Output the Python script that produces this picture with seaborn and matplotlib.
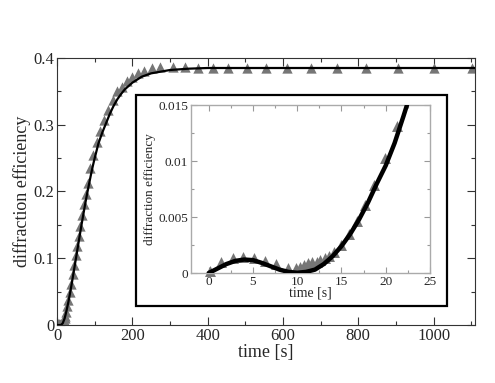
import numpy as np
import pandas as pd
import matplotlib
matplotlib.use("Agg")
import matplotlib.pyplot as plt
import matplotlib.ticker as mticker
from matplotlib.patches import Rectangle
import seaborn as sns

# --- data ---
# early measurements (also shown in the inset)
early_t = [0.1, 1.4, 2.7, 3.9, 5.1, 6.4, 7.6, 8.9, 9.9, 10.3, 10.8, 11.2, 11.7, 12.2,
           12.6, 13.1, 13.6, 14.1, 15.0, 15.8, 16.7, 17.6, 18.7, 19.9, 21.3]
early_eff = [0.0002, 0.00095, 0.0013, 0.00146, 0.00137, 0.00107, 0.00078, 0.00048,
             0.00048, 0.00057, 0.00071, 0.00086, 0.00095, 0.00101, 0.00116, 0.00131,
             0.00150, 0.0019, 0.0025, 0.0035, 0.0046, 0.0061, 0.0079, 0.0103, 0.0131]

# later measurements (main panel only)
late_t = [24, 27, 30, 34, 38, 42, 46, 50, 54, 58, 62, 67, 72, 76, 81, 87, 96, 105,
          114, 125, 136, 148, 158, 172, 185, 198, 214, 232, 251, 273, 307, 340, 375,
          413, 454, 504, 554, 610, 674, 743, 820, 905, 1000, 1103]
late_eff = [0.020, 0.028, 0.037, 0.049, 0.062, 0.076, 0.090, 0.105, 0.119, 0.134,
            0.148, 0.165, 0.182, 0.196, 0.212, 0.235, 0.255, 0.274, 0.290, 0.307,
            0.322, 0.337, 0.350, 0.357, 0.366, 0.372, 0.377, 0.381, 0.385, 0.386,
            0.386, 0.386, 0.385, 0.385, 0.385, 0.385, 0.385, 0.385, 0.385, 0.385,
            0.385, 0.385, 0.385, 0.385]

# fitted curve, main panel
fit_t = [0, 10, 15, 20, 22, 25, 30, 35, 40, 45, 50, 55, 60, 65, 70, 75, 80, 85, 90,
         95, 100, 110, 120, 130, 140, 150, 160, 170, 180, 200, 225, 250, 300, 350,
         400, 1110]
fit_eff = [0, 0, 0.0024, 0.0096, 0.014, 0.021, 0.034, 0.049, 0.065, 0.082, 0.099,
           0.116, 0.133, 0.150, 0.166, 0.182, 0.197, 0.211, 0.225, 0.238, 0.250,
           0.272, 0.288, 0.302, 0.316, 0.328, 0.338, 0.346, 0.353, 0.363, 0.372,
           0.377, 0.382, 0.384, 0.385, 0.385]

# fitted curve, inset
ins_fit_t = [0, 1, 2, 3, 4, 5, 6, 7, 8, 9, 10, 11, 12, 13, 14, 15, 16, 17, 18, 19,
             20, 21, 22, 22.4]
ins_fit_eff = [0, 0.0004, 0.0008, 0.00108, 0.0012, 0.00115, 0.0009, 0.0006, 0.0003,
               0.0001, 0.00002, 0.0001, 0.0003, 0.0008, 0.0015, 0.0024, 0.0035,
               0.0048, 0.0063, 0.0080, 0.0096, 0.0116, 0.0140, 0.0150]

pts = pd.DataFrame({"t": early_t + late_t, "eff": early_eff + late_eff})
pts_ins = pd.DataFrame({"t": early_t, "eff": early_eff})
fit = pd.DataFrame({"t": fit_t, "eff": fit_eff})
fit_ins = pd.DataFrame({"t": ins_fit_t, "eff": ins_fit_eff})

sns.set_style("ticks")
plt.rcParams["font.family"] = ["Liberation Serif", "DejaVu Serif"]

marker_gray = "#767676"

fig = plt.figure(figsize=(4.95, 3.83), dpi=100)

# --- main panel ---
ax = fig.add_axes([0.1152, 0.1514, 0.8444, 0.6972])
sns.scatterplot(data=pts, x="t", y="eff", marker="^", s=55, color=marker_gray,
                linewidth=0, ax=ax, zorder=2)
sns.lineplot(data=fit, x="t", y="eff", color="black", linewidth=1.6, ax=ax,
             zorder=3, estimator=None)
ax.set_xlim(0, 1110)
ax.set_ylim(0, 0.4)
ax.xaxis.set_major_locator(mticker.MultipleLocator(200))
ax.xaxis.set_minor_locator(mticker.MultipleLocator(100))
ax.yaxis.set_major_locator(mticker.MultipleLocator(0.1))
ax.yaxis.set_minor_locator(mticker.MultipleLocator(0.05))
ax.yaxis.set_major_formatter(mticker.FormatStrFormatter("%g"))
ax.tick_params(which="both", direction="in", top=True, right=True, labelsize=12,
               color="#333333", width=0.8, pad=2)
ax.tick_params(which="major", length=6)
ax.tick_params(which="minor", length=3)
for sp in ax.spines.values():
    sp.set_color("#333333")
    sp.set_linewidth(0.8)
ax.set_xlabel("time [s]", fontsize=13, labelpad=0)
ax.set_ylabel("diffraction efficiency", fontsize=13, labelpad=2)

# --- inset frame ---
frame = Rectangle((0.2747, 0.2010), 0.6283, 0.5510, transform=fig.transFigure,
                  facecolor="white", edgecolor="black", linewidth=1.6, zorder=5)
fig.patches.append(frame)

# --- inset panel ---
axi = fig.add_axes([0.3859, 0.2872, 0.4828, 0.4386], zorder=6)
sns.scatterplot(data=pts_ins, x="t", y="eff", marker="^", s=62, color=marker_gray,
                linewidth=0, ax=axi, zorder=2, clip_on=False)
sns.lineplot(data=fit_ins, x="t", y="eff", color="black", linewidth=3.2, ax=axi,
             zorder=3, estimator=None)
axi.set_xlim(-2, 25)
axi.set_ylim(0, 0.015)
axi.xaxis.set_major_locator(mticker.MultipleLocator(5))
axi.xaxis.set_minor_locator(mticker.MultipleLocator(2.5))
axi.yaxis.set_major_locator(mticker.MultipleLocator(0.005))
axi.yaxis.set_minor_locator(mticker.MultipleLocator(0.0025))
axi.yaxis.set_major_formatter(mticker.FormatStrFormatter("%g"))
axi.tick_params(which="both", direction="in", top=True, right=True, labelsize=9.5,
                color="#999999", width=0.8, pad=2)
axi.tick_params(which="major", length=4)
axi.tick_params(which="minor", length=2)
for sp in axi.spines.values():
    sp.set_color("#aaaaaa")
    sp.set_linewidth(1.0)
axi.set_xlabel("time [s]", fontsize=10, labelpad=-1)
axi.set_ylabel("diffraction efficiency", fontsize=9.5, labelpad=2)

fig.savefig("out.png", dpi=100)
